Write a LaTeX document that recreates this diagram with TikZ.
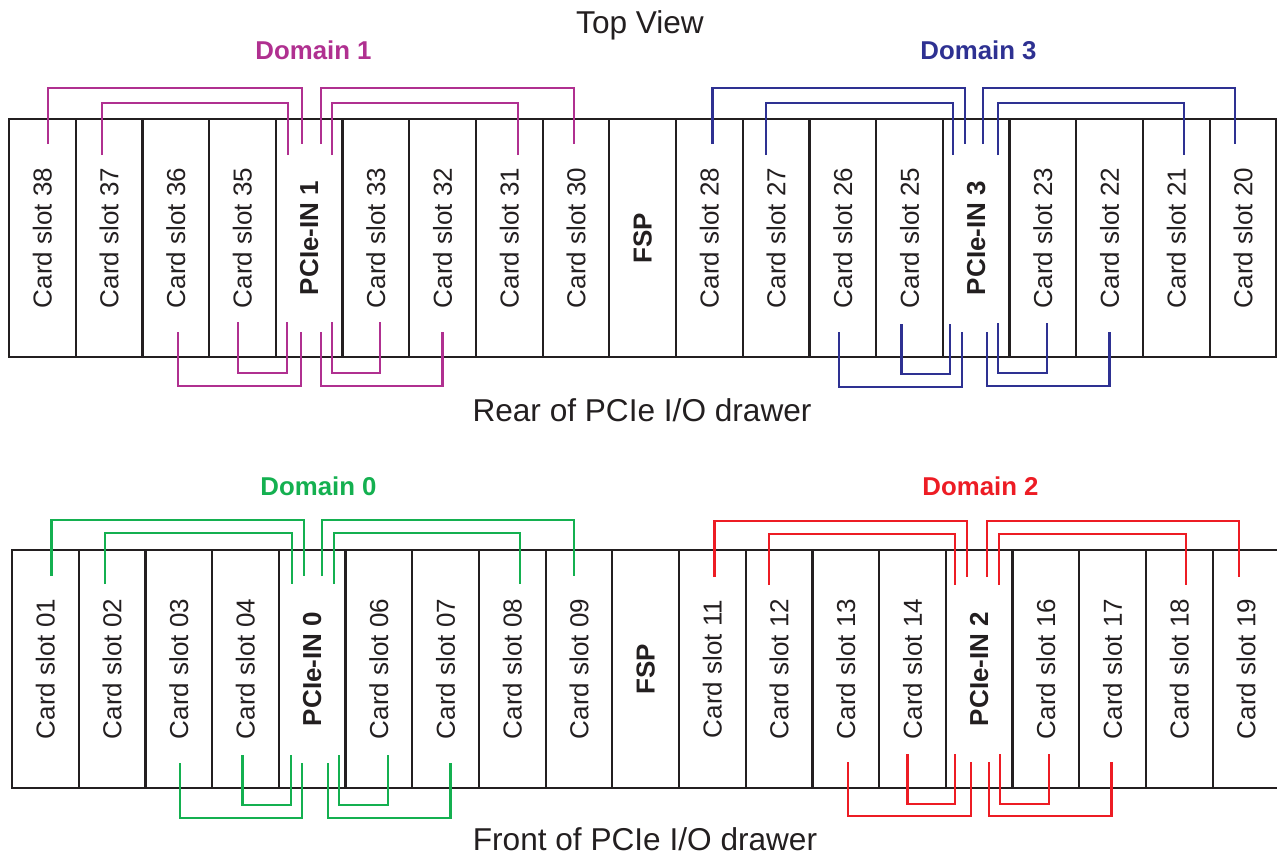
\documentclass[tikz,border=0pt]{standalone}
\usepackage{fontspec}
\setmainfont{Liberation Sans}
\usetikzlibrary{calc}
\definecolor{ink}{RGB}{35,31,32}
\definecolor{dom0}{RGB}{20,176,80}
\definecolor{dom1}{RGB}{176,48,144}
\definecolor{dom2}{RGB}{237,28,36}
\definecolor{dom3}{RGB}{46,49,146}
% cable: style, start slot, x offset, end slot, x offset, end depth, routing level
\newcommand\wire[7]{\draw[#1] ($(#2.center)+(#3,#6)$) -- ($(#2.center)+(#3,#7)$) -| ($(#4.center)+(#5,#6)$);}
\begin{document}
\begin{tikzpicture}[x=1pt,y=-1pt,
  slotbox/.style={draw=ink, line width=2.2pt, rotate=90, minimum width=238pt,
    minimum height=66.7pt, inner sep=0pt, text=ink, font=\fontsize{26}{26}\selectfont},
  cable/.style={line width=2.4pt},
  title/.style={text=ink, font=\fontsize{31.6}{32}\selectfont, anchor=base},
  domlabel/.style={font=\fontsize{25.8}{26}\selectfont\bfseries, anchor=base}]
\useasboundingbox (0,0) rectangle (1277,857);

% rear side of the drawer
\foreach [count=\i from 0] \n/\lab in {s38/Card slot 38, s37/Card slot 37, s36/Card slot 36,
    s35/Card slot 35, p1/\textbf{PCIe-IN 1}, s33/Card slot 33, s32/Card slot 32,
    s31/Card slot 31, s30/Card slot 30, fspr/\textbf{FSP}, s28/Card slot 28,
    s27/Card slot 27, s26/Card slot 26, s25/Card slot 25, p3/\textbf{PCIe-IN 3},
    s23/Card slot 23, s22/Card slot 22, s21/Card slot 21, s20/Card slot 20}
  \node[slotbox] (\n) at ({42.35+66.7*\i},238) {\lab};

% front side of the drawer
\foreach [count=\i from 0] \n/\lab in {s01/Card slot 01, s02/Card slot 02, s03/Card slot 03,
    s04/Card slot 04, p0/\textbf{PCIe-IN 0}, s06/Card slot 06, s07/Card slot 07,
    s08/Card slot 08, s09/Card slot 09, fspf/\textbf{FSP}, s11/Card slot 11,
    s12/Card slot 12, s13/Card slot 13, s14/Card slot 14, p2/\textbf{PCIe-IN 2},
    s16/Card slot 16, s17/Card slot 17, s18/Card slot 18, s19/Card slot 19}
  \node[slotbox] (\n) at ({45.35+66.7*\i},669) {\lab};

% Domain 1
\wire{cable,dom1}{s38}{5.6}{p1}{-7}{-94}{-150}
\wire{cable,dom1}{s37}{-7}{p1}{-21}{-83}{-135}
\wire{cable,dom1}{p1}{12}{s30}{-2}{-94}{-150}
\wire{cable,dom1}{p1}{23}{s31}{9}{-83}{-135}
\wire{cable,dom1}{s36}{2}{p1}{-8}{94}{148}
\wire{cable,dom1}{s35}{-4.5}{p1}{-22}{84}{135}
\wire{cable,dom1}{p1}{12}{s32}{0}{94}{148}
\wire{cable,dom1}{p1}{23}{s33}{4}{84}{135}

% Domain 3
\wire{cable,dom3}{s28}{3}{p3}{-11}{-94}{-150}
\wire{cable,dom3}{s27}{-10}{p3}{-23}{-83}{-135}
\wire{cable,dom3}{p3}{7}{s20}{-8}{-94}{-150}
\wire{cable,dom3}{p3}{22}{s21}{8}{-83}{-135}
\wire{cable,dom3}{s26}{-4}{p3}{-14}{94}{149}
\wire{cable,dom3}{s25}{-8}{p3}{-26}{86}{136}
\wire{cable,dom3}{p3}{11}{s22}{0}{94}{148}
\wire{cable,dom3}{p3}{22}{s23}{4}{85}{135}

% Domain 0
\wire{cable,dom0}{s01}{6}{p0}{-8}{-93}{-149}
\wire{cable,dom0}{s02}{-7}{p0}{-20}{-85}{-136}
\wire{cable,dom0}{p0}{10}{s09}{-5}{-93}{-149}
\wire{cable,dom0}{p0}{22}{s08}{8}{-85}{-136}
\wire{cable,dom0}{s03}{1}{p0}{-10}{94}{149}
\wire{cable,dom0}{s04}{-3}{p0}{-21}{86}{136}
\wire{cable,dom0}{p0}{16}{s07}{5}{94}{149}
\wire{cable,dom0}{p0}{27}{s06}{9}{86}{136}

% Domain 2
\wire{cable,dom2}{s11}{2}{p2}{-12}{-92}{-148}
\wire{cable,dom2}{s12}{-10}{p2}{-24}{-84}{-135}
\wire{cable,dom2}{p2}{8}{s19}{-7}{-92}{-148}
\wire{cable,dom2}{p2}{20}{s18}{7}{-84}{-135}
\wire{cable,dom2}{s13}{2}{p2}{-8}{93}{147}
\wire{cable,dom2}{s14}{-5}{p2}{-24}{85}{135}
\wire{cable,dom2}{p2}{10}{s17}{-1}{93}{147}
\wire{cable,dom2}{p2}{21}{s16}{3}{85}{135}

% captions
\node[title] (topview) at (640,33) {Top View};
\node[title] (rear) at (642,421) {Rear of PCIe I/O drawer};
\node[title] (front) at (645,850) {Front of PCIe I/O drawer};
\node[domlabel,text=dom1] (d1) at (313.5,59) {Domain 1};
\node[domlabel,text=dom3] (d3) at (978.5,59) {Domain 3};
\node[domlabel,text=dom0] (d0) at (318.5,495) {Domain 0};
\node[domlabel,text=dom2] (d2) at (980.5,495) {Domain 2};
\end{tikzpicture}
\end{document}
